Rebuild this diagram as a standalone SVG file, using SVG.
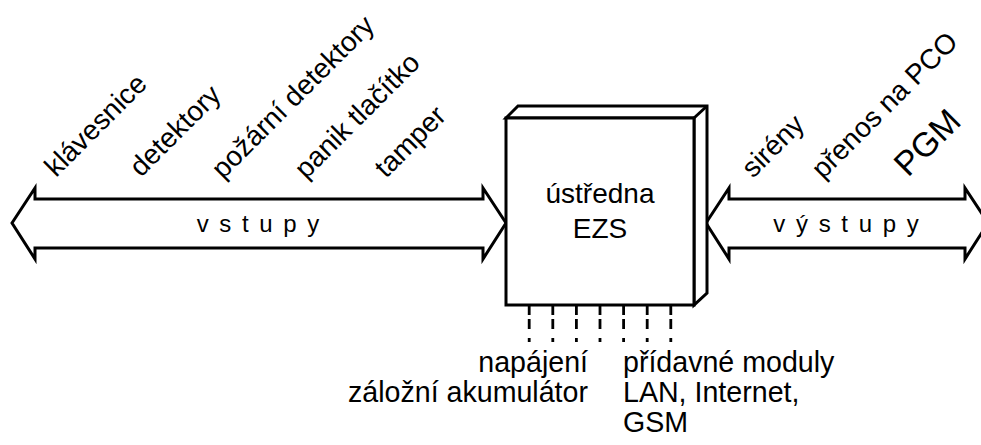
<svg xmlns="http://www.w3.org/2000/svg" width="981" height="445" viewBox="0 0 981 445">
<style>
.ln{fill:none;stroke:#000;stroke-width:3;stroke-linejoin:miter;stroke-miterlimit:10}
.ar{fill:#fff;stroke:#000;stroke-width:3;stroke-linejoin:miter;stroke-miterlimit:10}
.ds{fill:none;stroke:#000;stroke-width:2.8;stroke-dasharray:10 4 10 9 4 100}
text{font-family:"Liberation Sans",Arial,Helvetica,sans-serif;fill:#000}
.t{font-size:28px}
.b{font-size:28.6px}
.s{font-size:24px;letter-spacing:2px}
</style>
<rect width="981" height="445" fill="#fff"/>
<g id="connectors">
<g id="vstupy-arrow">
<polygon class="ar" points="12,223 35,188 35,199 483,199 483,188 506,223 483,259 483,248 35,248 35,259"/>
<text class="s" x="259" y="232" text-anchor="middle">v s t u p y</text>
</g>
<g id="vystupy-arrow">
<polygon class="ar" points="706,223 729,188 729,199 965,199 965,188 988,223 965,259 965,248 729,248 729,259"/>
<text class="s" x="847" y="232" text-anchor="middle">v ý s t u p y</text>
</g>
<g id="bus">
<line class="ds" x1="529.2" y1="305" x2="529.2" y2="342"/>
<line class="ds" x1="552.8" y1="305" x2="552.8" y2="342"/>
<line class="ds" x1="576.4" y1="305" x2="576.4" y2="342"/>
<line class="ds" x1="600" y1="305" x2="600" y2="342"/>
<line class="ds" x1="623.6" y1="305" x2="623.6" y2="342"/>
<line class="ds" x1="647.2" y1="305" x2="647.2" y2="342"/>
<line class="ds" x1="670.8" y1="305" x2="670.8" y2="342"/>
</g>
</g>
<g id="ustredna">
<polygon class="ar" points="506,118 518,106 707,106 707,293 694,305 694,118"/>
<line class="ln" x1="694" y1="118" x2="707" y2="106"/>
<rect class="ar" x="506" y="118" width="188" height="187"/>
<text class="t" x="600" y="203" text-anchor="middle">ústředna</text>
<text class="t" x="600" y="238" text-anchor="middle">EZS</text>
</g>
<g id="inputs">
<text class="t" transform="translate(56,178) rotate(-45)">klávesnice</text>
<text class="t" transform="translate(141,178) rotate(-45)">detektory</text>
<text class="t" transform="translate(223,180) rotate(-45)">požární detektory</text>
<text class="t" transform="translate(306,180) rotate(-45)">panik tlačítko</text>
<text class="t" transform="translate(386,179) rotate(-45)">tamper</text>
</g>
<g id="outputs">
<text class="t" transform="translate(753,179) rotate(-45)">sirény</text>
<text class="t" transform="translate(823,180) rotate(-45)">přenos na PCO</text>
<text style="font-size:34px" transform="translate(908,178) rotate(-45)">PGM</text>
</g>
<g id="bottom-left">
<text class="b" x="588" y="372" text-anchor="end">napájení</text>
<text class="b" x="588" y="402" text-anchor="end">záložní akumulátor</text>
</g>
<g id="bottom-right">
<text class="b" x="623" y="372">přídavné moduly</text>
<text class="b" x="623" y="402">LAN, Internet,</text>
<text class="b" x="623" y="432">GSM</text>
</g>
</svg>
